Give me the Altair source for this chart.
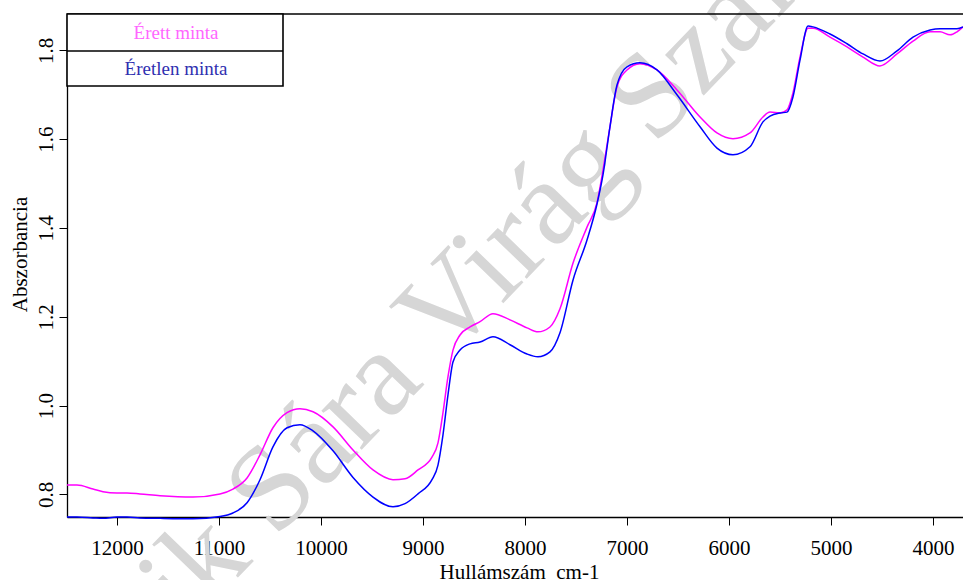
import altair as alt
import pandas as pd

# Wavenumbers (cm-1) sampled along the spectra
wavenumber = [12490, 12392, 12235, 12137, 12000, 11902, 11775, 11578, 11255, 10990,
              10863, 10725, 10598, 10471, 10333, 10206, 10078, 9882, 9686, 9490,
              9294, 9176, 9049, 8912, 8853, 8804, 8755, 8706, 8637, 8539,
              8441, 8314, 8147, 7980, 7873, 7755, 7657, 7529, 7392, 7294,
              7235, 7167, 7098, 7000, 6873, 6706, 6510, 6284, 6118, 5961,
              5794, 5667, 5598, 5500, 5431, 5373, 5304, 5225, 5176, 5010,
              4843, 4686, 4520, 4353, 4196, 4029, 3931, 3833, 3765, 3706]

# Érett minta (ripe sample)
erett = [0.821, 0.821, 0.812, 0.806, 0.803, 0.803, 0.801, 0.797, 0.794, 0.801,
         0.812, 0.837, 0.889, 0.950, 0.984, 0.993, 0.986, 0.952, 0.900, 0.855,
         0.833, 0.835, 0.855, 0.884, 0.916, 0.984, 1.065, 1.125, 1.159, 1.177,
         1.189, 1.207, 1.193, 1.175, 1.166, 1.177, 1.218, 1.321, 1.402, 1.457,
         1.531, 1.628, 1.718, 1.756, 1.770, 1.756, 1.711, 1.650, 1.614, 1.601,
         1.614, 1.650, 1.661, 1.659, 1.666, 1.704, 1.785, 1.850, 1.850, 1.830,
         1.808, 1.785, 1.765, 1.792, 1.821, 1.842, 1.842, 1.835, 1.842, 1.853]

# Éretlen minta (unripe sample)
eretlen = [0.749, 0.749, 0.747, 0.746, 0.749, 0.749, 0.747, 0.746, 0.745, 0.750,
           0.758, 0.781, 0.833, 0.907, 0.950, 0.957, 0.943, 0.898, 0.838, 0.794,
           0.772, 0.779, 0.801, 0.833, 0.866, 0.934, 1.024, 1.098, 1.125, 1.139,
           1.143, 1.155, 1.137, 1.116, 1.110, 1.121, 1.164, 1.283, 1.373, 1.454,
           1.520, 1.628, 1.722, 1.763, 1.772, 1.756, 1.700, 1.628, 1.580, 1.565,
           1.583, 1.639, 1.652, 1.659, 1.661, 1.695, 1.778, 1.855, 1.853, 1.837,
           1.815, 1.792, 1.776, 1.799, 1.830, 1.846, 1.849, 1.849, 1.849, 1.853]

series_names = ["Érett minta", "Éretlen minta"]
line_colors = ["#FF00FF", "#0000FF"]
legend_text_colors = ["#FF66FF", "#2F2FB0"]

x_ticks = [12000, 11000, 10000, 9000, 8000, 7000, 6000, 5000, 4000]
y_ticks = [0.8, 1.0, 1.2, 1.4, 1.6, 1.8]
x_domain = [3706, 12490]
y_domain = [0.749, 1.882]

x_title = "Hullámszám\u00a0 cm-1"
y_title = "Abszorbancia"
watermark = "ik Sára Virág Szak"

FONT = "Liberation Serif"
W, H = 896, 503

df_erett = pd.DataFrame({"wn": wavenumber, "abs": erett})
df_eretlen = pd.DataFrame({"wn": wavenumber, "abs": eretlen})
one = pd.DataFrame({"a": [0]})

x_enc = alt.X(
    "wn:Q",
    scale=alt.Scale(domain=x_domain, reverse=True, nice=False, zero=False),
    axis=alt.Axis(
        values=x_ticks, format="d", title=x_title,
        labelFont=FONT, labelFontSize=21, labelColor="black", labelPadding=12,
        labelOverlap=False, labelFlush=False,
        tickColor="black", tickSize=8, tickWidth=1,
        domainColor="black", domainWidth=1.3, grid=False,
        titleFont=FONT, titleFontSize=21, titleFontWeight="normal", titleColor="black",
        titleX=452, titleY=61, titleAlign="center", titleBaseline="alphabetic",
    ),
)
y_enc = alt.Y(
    "abs:Q",
    scale=alt.Scale(domain=y_domain, nice=False, zero=False),
    axis=alt.Axis(
        values=y_ticks, format=".1f", title=y_title,
        labelFont=FONT, labelFontSize=21, labelColor="black", labelPadding=7,
        labelAngle=270, labelAlign="center", labelBaseline="alphabetic",
        labelOverlap=False, labelFlush=False,
        tickColor="black", tickSize=8, tickWidth=1,
        domainColor="black", domainWidth=1.3, grid=False,
        titleFont=FONT, titleFontSize=21, titleFontWeight="normal", titleColor="black",
        titleAngle=270, titleX=-41, titleY=240, titleAlign="center", titleBaseline="alphabetic",
    ),
)

wm = alt.Chart(one).mark_text(
    text=watermark, font=FONT, fontSize=122, angle=314, color="#D6D6D6",
    align="center", baseline="middle",
).encode(x=alt.value(410), y=alt.value(263))

line_erett = alt.Chart(df_erett).mark_line(
    color=line_colors[0], strokeWidth=1.5, interpolate="monotone"
).encode(x=x_enc, y=y_enc)

line_eretlen = alt.Chart(df_eretlen).mark_line(
    color=line_colors[1], strokeWidth=1.5, interpolate="monotone"
).encode(x=x_enc, y=y_enc)

top_rule = alt.Chart(one).mark_rule(color="black", strokeWidth=1.3).encode(
    x=alt.value(0), x2=alt.value(W), y=alt.value(0)
)

legend_box = alt.Chart(one).mark_rect(fill="white", stroke="black", strokeWidth=1.6).encode(
    x=alt.value(0), x2=alt.value(216), y=alt.value(0), y2=alt.value(72)
)
legend_div = alt.Chart(one).mark_rule(color="black", strokeWidth=1.6).encode(
    x=alt.value(0), x2=alt.value(216), y=alt.value(37)
)
legend_t1 = alt.Chart(one).mark_text(
    text=series_names[0], font=FONT, fontSize=19, color=legend_text_colors[0],
    align="center", baseline="alphabetic",
).encode(x=alt.value(109), y=alt.value(24.5))
legend_t2 = alt.Chart(one).mark_text(
    text=series_names[1], font=FONT, fontSize=19, color=legend_text_colors[1],
    align="center", baseline="alphabetic",
).encode(x=alt.value(109), y=alt.value(60.5))

chart = alt.layer(
    wm, line_erett, line_eretlen, top_rule, legend_box, legend_div, legend_t1, legend_t2
).properties(
    width=W, height=H,
    autosize=alt.AutoSizeParams(type="none"),
    padding={"left": 67, "top": 14, "right": 0, "bottom": 63},
    background="white",
).configure_view(stroke=None)

chart.save("out.html", embed_options={"renderer": "svg", "actions": False})
